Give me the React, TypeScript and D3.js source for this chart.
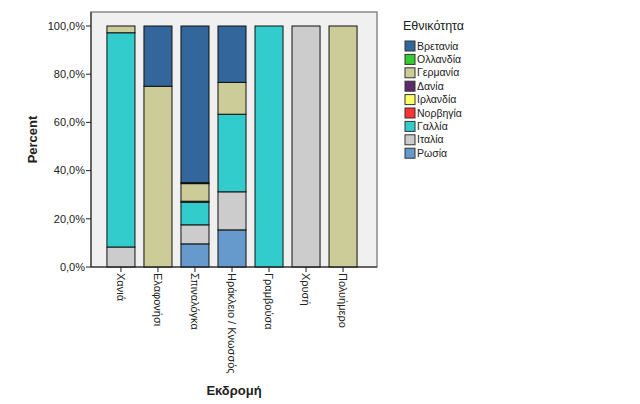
import React from "react";
import * as d3 from "d3";

const trips = ["Χανιά", "Ελαφονήσι", "Σπιναλόγκα", "Ηράκλειο / Κνωσσός", "Γραμβούσα", "Χρυσή", "Πολυήμερο"];
const nationalities = ["Βρετανία", "Ολλανδία", "Γερμανία", "Δανία", "Ιρλανδία", "Νορβηγία", "Γαλλία", "Ιταλία", "Ρωσία"];
const colors = ["#33669a", "#33cc33", "#cccc99", "#5c2a6a", "#ffff66", "#ff3333", "#33cccc", "#cccccc", "#6699cc"];
// percent per trip, in nationality order
const britain = [0, 25, 65, 23.4, 0, 0, 0];
const netherlands = [0, 0, 0.4, 0, 0, 0, 0];
const germany = [2.8, 75, 7.3, 13.2, 0, 0, 100];
const denmark = [0, 0, 0.4, 0, 0, 0, 0];
const ireland = [0, 0, 0, 0, 0, 0, 0];
const norway = [0, 0, 0, 0, 0, 0, 0];
const france = [88.9, 0, 9.4, 32.2, 100, 0, 0];
const italy = [8.3, 0, 7.9, 15.8, 0, 100, 0];
const russia = [0, 0, 9.6, 15.4, 0, 0, 0];
const seriesValues = [britain, netherlands, germany, denmark, ireland, norway, france, italy, russia];
const yTicks = [0, 20, 40, 60, 80, 100];

export default function App() {
  const left = 91, right = 377, top = 12, bottom = 267;
  const x = d3.scaleBand<string>().domain(trips).range([102.5, 361.5]).paddingInner(0.243).paddingOuter(0.12);
  const y = d3.scaleLinear().domain([0, 100]).range([bottom, 26]);
  const table = trips.map((t, i) => {
    const row: any = { trip: t };
    nationalities.forEach((n, j) => (row[n] = seriesValues[j][i]));
    return row;
  });
  const stackOrder = [...nationalities].reverse();
  const stacked = d3.stack<any>().keys(stackOrder)(table);
  const colorOf = (n: string) => colors[nationalities.indexOf(n)];
  const fmt = (v: number) => v.toFixed(1).replace(".", ",") + "%";
  const font = "Arial, 'Liberation Sans', sans-serif";

  return (
    <svg width={640} height={404} style={{ position: "absolute", left: 0, top: 0, background: "#fff" }} fontFamily={font}>
      <rect x={0} y={0} width={640} height={404} fill="#ffffff" />
      <rect x={left} y={top} width={right - left} height={bottom - top} fill="#f0f0f0" stroke="#8a8a8a" strokeWidth={1.5} />
      {stacked.map((layer) =>
        layer.map((d, i) => {
          const h = y(d[0]) - y(d[1]);
          if (h <= 0) return null;
          return (
            <rect
              key={layer.key + i}
              x={x(trips[i])}
              y={y(d[1])}
              width={x.bandwidth()}
              height={h}
              fill={colorOf(layer.key as string)}
              stroke="#111"
              strokeWidth={1}
            />
          );
        })
      )}
      <line x1={left} x2={left} y1={top} y2={bottom} stroke="#222" strokeWidth={1} />
      <line x1={left} x2={right} y1={bottom} y2={bottom} stroke="#222" strokeWidth={1} />
      {yTicks.map((t) => (
        <g key={t}>
          <line x1={left - 5} x2={left} y1={y(t)} y2={y(t)} stroke="#222" />
          <text x={left - 6} y={y(t)} dy="0.35em" textAnchor="end" fontSize={11} fill="#222">
            {fmt(t)}
          </text>
        </g>
      ))}
      {trips.map((t) => {
        const cx = (x(t) as number) + x.bandwidth() / 2;
        return (
          <g key={t}>
            <line x1={cx} x2={cx} y1={bottom} y2={bottom + 5} stroke="#222" />
            <text
              transform={`translate(${cx},${bottom + 6}) rotate(90)`}
              dy="0.35em"
              fontSize={11}
              fill="#222"
            >
              {t}
            </text>
          </g>
        );
      })}
      <text transform={`translate(37,${(top + bottom) / 2}) rotate(-90)`} textAnchor="middle" fontSize={13} fontWeight="bold" fill="#222">
        Percent
      </text>
      <text x={234} y={395} textAnchor="middle" fontSize={13} fontWeight="bold" fill="#222">
        Εκδρομή
      </text>
      <text x={403} y={30} fontSize={12.5} fill="#222">Εθνικότητα</text>
      {nationalities.map((n, i) => (
        <g key={n} transform={`translate(405,${41 + i * 13.4})`}>
          <rect x={0} y={0} width={10} height={10} fill={colors[i]} stroke="#333" strokeWidth={1} />
          <text x={12} y={5} dy="0.35em" fontSize={10.5} fill="#222">{n}</text>
        </g>
      ))}
    </svg>
  );
}
